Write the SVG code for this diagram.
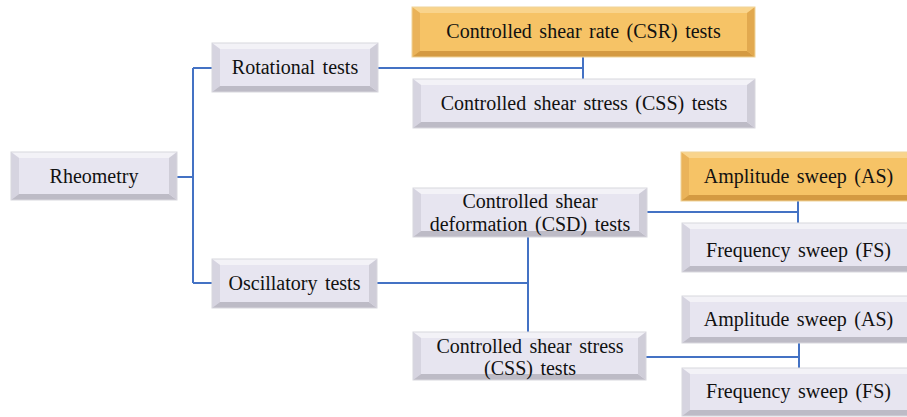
<svg xmlns="http://www.w3.org/2000/svg" width="907" height="417" viewBox="0 0 907 417">
<style>
.face{fill:#e7e5f0}
.top{fill:#f3f2f7}
.left{fill:#d6d4e0}
.right{fill:#cfcdd8}
.bot{fill:#bdbbc6}
.edge{fill:none;stroke:#d8d7de;stroke-width:1}
.o .face{fill:#f6c366}
.o .top{fill:#f9d48c}
.o .left{fill:#eab35a}
.o .right{fill:#e2a94f}
.o .bot{fill:#d49a42}
.o .edge{stroke:#f0d49a}
text{font-family:'Liberation Serif','DejaVu Serif',serif;font-size:20px;fill:#111;text-anchor:middle;word-spacing:2.5px}
.c{fill:none;stroke:#4472c4;stroke-width:2}
</style>
<rect width="907" height="417" fill="#ffffff"/>
<g id="connectors">
<path class="c" d="M177,177 H193 M193,68 V283 M193,68 H212 M193,283 H212"/>
<path class="c" d="M378,68 H583 M583,57 V79"/>
<path class="c" d="M377,283 H528 M528,237 V332"/>
<path class="c" d="M647,212 H798 M798,201 V223"/>
<path class="c" d="M646,357 H799 M799,343 V368"/>
</g>
<g id="rheometry">
<rect class="face" x="11" y="152" width="166" height="48"/>
<polygon class="top" points="11,152 177,152 169,158 19,158"/>
<polygon class="left" points="11,152 19,158 19,194 11,200"/>
<polygon class="bot" points="11,200 19,194 169,194 177,200"/>
<polygon class="right" points="177,152 177,200 169,194 169,158"/>
<rect class="edge" x="11" y="152" width="166" height="48"/>
<text x="94" y="183">Rheometry</text>
</g>
<g id="rotational">
<rect class="face" x="212" y="43" width="166" height="49"/>
<polygon class="top" points="212,43 378,43 370,49 220,49"/>
<polygon class="left" points="212,43 220,49 220,86 212,92"/>
<polygon class="bot" points="212,92 220,86 370,86 378,92"/>
<polygon class="right" points="378,43 378,92 370,86 370,49"/>
<rect class="edge" x="212" y="43" width="166" height="49"/>
<text x="295" y="74">Rotational tests</text>
</g>
<g id="csr" class="o">
<rect class="face" x="412" y="7" width="343" height="50"/>
<polygon class="top" points="412,7 755,7 747,13 420,13"/>
<polygon class="left" points="412,7 420,13 420,51 412,57"/>
<polygon class="bot" points="412,57 420,51 747,51 755,57"/>
<polygon class="right" points="755,7 755,57 747,51 747,13"/>
<rect class="edge" x="412" y="7" width="343" height="50"/>
<text x="583.5" y="38">Controlled shear rate (CSR) tests</text>
</g>
<g id="css1">
<rect class="face" x="413" y="79" width="342" height="49"/>
<polygon class="top" points="413,79 755,79 747,85 421,85"/>
<polygon class="left" points="413,79 421,85 421,122 413,128"/>
<polygon class="bot" points="413,128 421,122 747,122 755,128"/>
<polygon class="right" points="755,79 755,128 747,122 747,85"/>
<rect class="edge" x="413" y="79" width="342" height="49"/>
<text x="584" y="110">Controlled shear stress (CSS) tests</text>
</g>
<g id="oscillatory">
<rect class="face" x="212" y="259" width="165" height="49"/>
<polygon class="top" points="212,259 377,259 369,265 220,265"/>
<polygon class="left" points="212,259 220,265 220,302 212,308"/>
<polygon class="bot" points="212,308 220,302 369,302 377,308"/>
<polygon class="right" points="377,259 377,308 369,302 369,265"/>
<rect class="edge" x="212" y="259" width="165" height="49"/>
<text x="294.5" y="290">Oscillatory tests</text>
</g>
<g id="csd">
<rect class="face" x="413" y="188" width="234" height="49"/>
<polygon class="top" points="413,188 647,188 639,194 421,194"/>
<polygon class="left" points="413,188 421,194 421,231 413,237"/>
<polygon class="bot" points="413,237 421,231 639,231 647,237"/>
<polygon class="right" points="647,188 647,237 639,231 639,194"/>
<rect class="edge" x="413" y="188" width="234" height="49"/>
<text x="530" y="208">Controlled shear</text>
<text x="530" y="231">deformation (CSD) tests</text>
</g>
<g id="as1" class="o">
<rect class="face" x="681" y="152" width="226" height="49"/>
<polygon class="top" points="681,152 907,152 907,158 689,158"/>
<polygon class="left" points="681,152 689,158 689,195 681,201"/>
<polygon class="bot" points="681,201 689,195 907,195 907,201"/>
<rect class="edge" x="681" y="152" width="230" height="49"/>
<text x="798.5" y="183">Amplitude sweep (AS)</text>
</g>
<g id="fs1">
<rect class="face" x="682" y="223" width="225" height="49"/>
<polygon class="top" points="682,223 907,223 907,229 690,229"/>
<polygon class="left" points="682,223 690,229 690,266 682,272"/>
<polygon class="bot" points="682,272 690,266 907,266 907,272"/>
<rect class="edge" x="682" y="223" width="230" height="49"/>
<text x="798.5" y="257">Frequency sweep (FS)</text>
</g>
<g id="css2">
<rect class="face" x="413" y="332" width="233" height="48"/>
<polygon class="top" points="413,332 646,332 638,338 421,338"/>
<polygon class="left" points="413,332 421,338 421,374 413,380"/>
<polygon class="bot" points="413,380 421,374 638,374 646,380"/>
<polygon class="right" points="646,332 646,380 638,374 638,338"/>
<rect class="edge" x="413" y="332" width="233" height="48"/>
<text x="530" y="353">Controlled shear stress</text>
<text x="530" y="375">(CSS) tests</text>
</g>
<g id="as2">
<rect class="face" x="682" y="296" width="225" height="47"/>
<polygon class="top" points="682,296 907,296 907,302 690,302"/>
<polygon class="left" points="682,296 690,302 690,337 682,343"/>
<polygon class="bot" points="682,343 690,337 907,337 907,343"/>
<rect class="edge" x="682" y="296" width="230" height="47"/>
<text x="798.5" y="326">Amplitude sweep (AS)</text>
</g>
<g id="fs2">
<rect class="face" x="682" y="368" width="225" height="48"/>
<polygon class="top" points="682,368 907,368 907,374 690,374"/>
<polygon class="left" points="682,368 690,374 690,410 682,416"/>
<polygon class="bot" points="682,416 690,410 907,410 907,416"/>
<rect class="edge" x="682" y="368" width="230" height="48"/>
<text x="798.5" y="398">Frequency sweep (FS)</text>
</g>
</svg>
